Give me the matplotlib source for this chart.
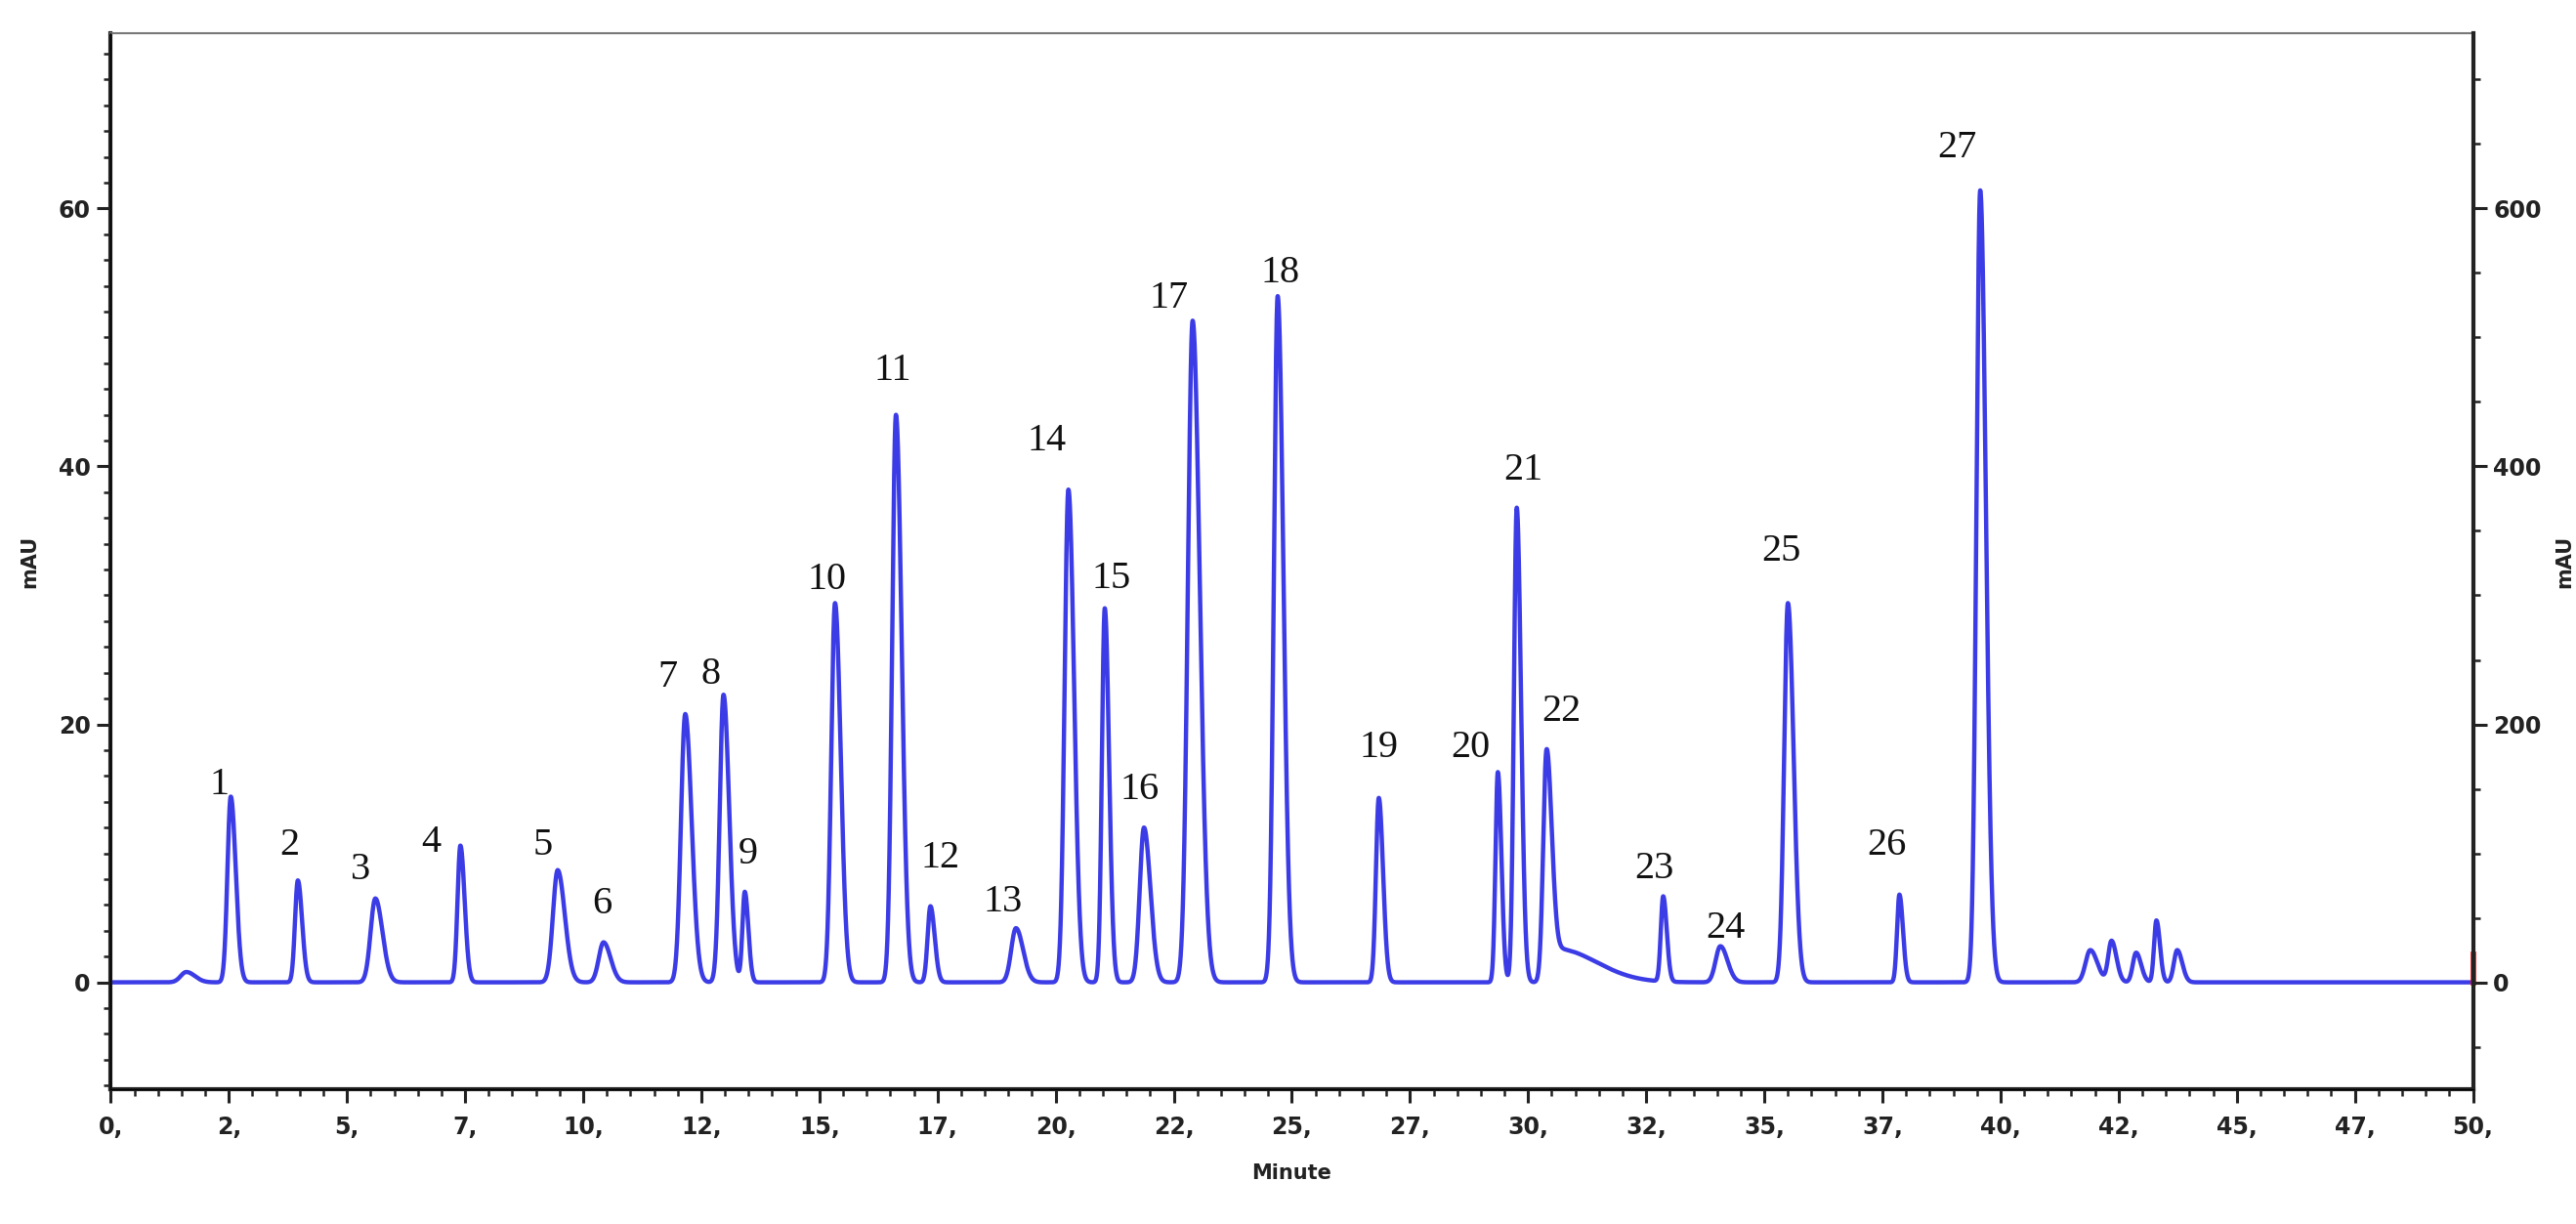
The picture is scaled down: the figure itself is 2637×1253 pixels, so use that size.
import matplotlib
matplotlib.use("Agg")
from matplotlib import pyplot as plt
from matplotlib.ticker import MultipleLocator
import numpy as np

# peak table (retention time in min, height in mAU)
peak_times = [1.6, 2.54, 3.96, 5.6, 7.4, 9.46, 10.43, 12.16, 12.97, 13.42,
              15.33, 16.62, 17.35, 19.16, 20.27, 21.04, 21.87, 22.9, 24.7,
              26.84, 29.36, 29.76, 30.39, 30.6, 32.86, 34.07, 35.5, 37.86,
              39.57, 41.9, 42.35, 42.87, 43.3, 43.74]
peak_heights = [0.8, 14.4, 7.9, 6.5, 10.6, 8.7, 3.1, 20.8, 22.3, 7.0,
                29.4, 44.0, 5.9, 4.2, 38.2, 29.0, 12.0, 51.3, 53.2,
                14.3, 16.3, 36.8, 17.5, 2.6, 6.6, 2.8, 29.4, 6.8,
                61.4, 2.5, 3.2, 2.3, 4.8, 2.5]
peak_sigmas = [0.12, 0.07, 0.06, 0.1, 0.06, 0.1, 0.1, 0.09, 0.08, 0.05,
               0.08, 0.08, 0.06, 0.1, 0.08, 0.06, 0.09, 0.1, 0.08,
               0.06, 0.05, 0.06, 0.07, 0.12, 0.05, 0.1, 0.08, 0.05,
               0.08, 0.1, 0.07, 0.07, 0.05, 0.07]
peak_tails = [1.5] * 23 + [7.0] + [1.5] * 10

peak_labels = [str(i) for i in range(1, 28)]
label_x = [2.29, 3.79, 5.29, 6.78, 9.14, 10.40, 11.79, 12.69, 13.49, 15.16,
           16.55, 17.56, 18.88, 19.82, 21.18, 21.77, 22.39, 24.76, 26.84,
           28.79, 29.90, 30.70, 32.68, 34.18, 35.36, 37.59, 39.08]
label_y = [15.3, 10.6, 8.7, 10.8, 10.6, 6.1, 23.6, 23.9, 9.9, 31.2,
           47.4, 9.6, 6.2, 42.0, 31.3, 14.9, 53.0, 55.0, 18.2,
           18.2, 39.7, 21.0, 8.8, 4.2, 33.4, 10.6, 64.7]

x_ticks = [0, 2.5, 5, 7.5, 10, 12.5, 15, 17.5, 20, 22.5, 25, 27.5, 30,
           32.5, 35, 37.5, 40, 42.5, 45, 47.5, 50]
x_ticklabels = ['0,', '2,', '5,', '7,', '10,', '12,', '15,', '17,', '20,',
                '22,', '25,', '27,', '30,', '32,', '35,', '37,', '40,',
                '42,', '45,', '47,', '50,']
y_ticks = [0, 20, 40, 60]
y_ticklabels = ['0', '20', '40', '60']
y2_ticklabels = ['0', '200', '400', '600']

# build the trace from the peak table (slightly tailed peaks)
t = np.linspace(0, 50, 25001)
signal = np.zeros_like(t)
for tr, h, s, k in zip(peak_times, peak_heights, peak_sigmas, peak_tails):
    s_eff = np.where(t < tr, s, s * k)
    signal += h * np.exp(-0.5 * ((t - tr) / s_eff) ** 2)

fig = plt.figure(figsize=(26.37, 12.53), dpi=100)
ax = fig.add_axes([0.043, 0.110, 0.917, 0.863])

ax.plot(t, signal, color='#3c3ce6', linewidth=3.2, solid_joinstyle='round')

for lab, lx, ly in zip(peak_labels, label_x, label_y):
    ax.text(lx, ly, lab, ha='center', va='center', fontsize=29,
            family=['Liberation Serif', 'DejaVu Serif'], color='#111111')

ax.set_xlim(0, 50)
ax.set_ylim(-8.3, 73.6)

tick_font = dict(family=['Liberation Sans Narrow', 'DejaVu Sans'],
                 fontsize=17, fontweight='bold', color='#222222')
ax.set_xticks(x_ticks)
ax.set_xticklabels(x_ticklabels, **tick_font)
ax.xaxis.set_minor_locator(MultipleLocator(0.5))
ax.set_yticks(y_ticks)
ax.set_yticklabels(y_ticklabels, **tick_font)
ax.yaxis.set_minor_locator(MultipleLocator(2))
ax.tick_params(axis='both', which='major', direction='out', length=10,
               width=2.2, color='#222222', pad=5)
ax.tick_params(axis='x', which='major', pad=9)
ax.tick_params(axis='both', which='minor', direction='out', length=5,
               width=1.8, color='#222222')

ax.set_xlabel('Minute', fontsize=15, fontweight='bold', color='#222222',
              labelpad=18)
ax.set_ylabel('mAU', fontsize=15, fontweight='bold', color='#222222',
              labelpad=14)

for side in ['left', 'bottom']:
    ax.spines[side].set_linewidth(3)
    ax.spines[side].set_color('#222222')
ax.spines['top'].set_linewidth(1.5)
ax.spines['top'].set_color('#777777')

ax2 = ax.twinx()
ax2.set_ylim(-83, 736)
ax2.set_yticks([v * 10 for v in y_ticks])
ax2.set_yticklabels(y2_ticklabels, **tick_font)
ax2.yaxis.set_minor_locator(MultipleLocator(50))
ax2.tick_params(axis='y', which='major', direction='out', length=10,
                width=2.2, color='#222222', pad=5)
ax2.tick_params(axis='y', which='minor', direction='out', length=5,
                width=1.8, color='#222222')
ax2.set_ylabel('mAU', fontsize=15, fontweight='bold', color='#222222',
               labelpad=10)
ax2.spines['right'].set_linewidth(3)
ax2.spines['right'].set_color('#222222')
ax2.spines['top'].set_visible(False)

# small red marker at end of run
ax.plot([50, 50], [0, 2.2], color='red', linewidth=4, clip_on=False)

fig.savefig('out.png', dpi=100)
